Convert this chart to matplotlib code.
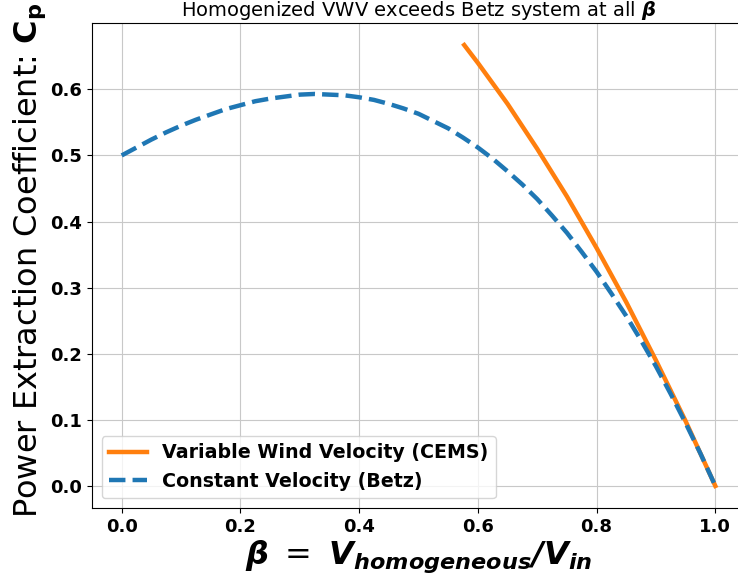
import matplotlib
matplotlib.use("Agg")
import matplotlib.pyplot as plt

# Betz curve (constant velocity)
beta_betz = [0.0, 0.025, 0.05, 0.075, 0.1, 0.125, 0.15, 0.175, 0.2, 0.225,
             0.25, 0.275, 0.3, 0.325, 0.35, 0.375, 0.4, 0.425, 0.45, 0.475,
             0.5, 0.525, 0.55, 0.575, 0.6, 0.625, 0.65, 0.675, 0.7, 0.725,
             0.75, 0.775, 0.8, 0.825, 0.85, 0.875, 0.9, 0.925, 0.95, 0.975, 1.0]
cp_betz = [0.500, 0.512, 0.524, 0.535, 0.545, 0.554, 0.562, 0.570, 0.576, 0.582,
           0.586, 0.589, 0.592, 0.593, 0.592, 0.591, 0.588, 0.584, 0.578, 0.571,
           0.563, 0.552, 0.541, 0.527, 0.512, 0.495, 0.476, 0.456, 0.434, 0.409,
           0.383, 0.354, 0.324, 0.291, 0.257, 0.220, 0.181, 0.139, 0.095, 0.049, 0.0]

# variable wind velocity (CEMS)
beta_cems = [0.577, 0.6, 0.625, 0.65, 0.675, 0.7, 0.725, 0.75, 0.775, 0.8,
             0.825, 0.85, 0.875, 0.9, 0.925, 0.95, 0.975, 1.0]
cp_cems = [0.667, 0.640, 0.609, 0.578, 0.544, 0.510, 0.474, 0.438, 0.399, 0.360,
           0.319, 0.278, 0.234, 0.190, 0.144, 0.098, 0.049, 0.0]

W, H = 738, 581
fig = plt.figure(figsize=(W / 100, H / 100), dpi=100)
ax = fig.add_axes([92 / W, (H - 508) / H, (745 - 92) / W, (508 - 23) / H])

ax.plot(beta_cems, cp_cems, color='tab:orange', lw=3.2,
        label='Variable Wind Velocity (CEMS)')
ax.plot(beta_betz, cp_betz, color='tab:blue', lw=3.2, ls='--',
        label='Constant Velocity (Betz)')

ax.grid(True, color='#c8c8c8')
ax.set_xticks([0.0, 0.2, 0.4, 0.6, 0.8, 1.0])
ax.set_yticks([0.0, 0.1, 0.2, 0.3, 0.4, 0.5, 0.6])
for lab in ax.get_xticklabels() + ax.get_yticklabels():
    lab.set_fontsize(13)
    lab.set_fontweight('bold')

ax.set_title(r'Homogenized VWV exceeds Betz system at all $\boldsymbol{\beta}$',
             fontsize=14, pad=5)
ax.set_xlabel(r'$\boldsymbol{\beta}\ =\ \mathbfit{V_{homogeneous}/V_{in}}$',
              fontsize=23, labelpad=2)
# y label runs off the top edge like in the original
fig.text(37 / W, (H - 518) / H, r'Power Extraction Coefficient: $\mathbf{C_p}$',
         fontsize=23, rotation=90, rotation_mode='anchor',
         ha='left', va='baseline')

ax.legend(loc='lower left', prop={'weight': 'bold', 'size': 13.7})

fig.savefig('out.png', dpi=100)
